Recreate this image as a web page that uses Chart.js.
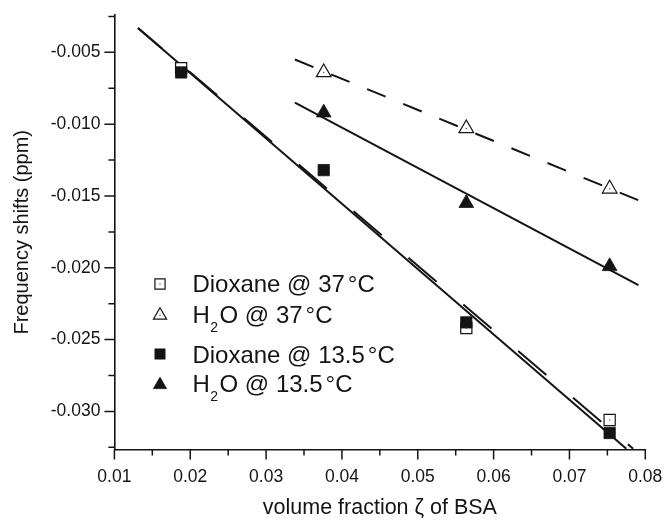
<!DOCTYPE html>
<html>
<head>
<meta charset="utf-8">
<script src="https://cdn.jsdelivr.net/npm/chart.js@4/dist/chart.umd.min.js"></script>
<style>
html,body{margin:0;padding:0;background:#fff;}
#wrap{width:664px;height:522px;}
</style>
</head>
<body>
<div id="wrap"><canvas id="c" width="664" height="522"></canvas></div>
<script>
// ---- data ----
const volumeFraction = [0.0188, 0.0376, 0.0564, 0.0753];
const dioxane37  = [-0.0061, null, -0.0242, -0.0306];
const h2o37      = [null, -0.0064, -0.0103, -0.0145];
const dioxane135 = [-0.0064, -0.0132, -0.0238, -0.0315];
const h2o135     = [null, -0.0092, -0.0155, -0.0199];

// linear fit lines (end points)
const fitDioxane37X  = [0.0131, 0.0784];
const fitDioxane37Y  = [-0.0033, -0.0326];
const fitDioxane135X = [0.0131, 0.0775];
const fitDioxane135Y = [-0.0033, -0.0326];
const fitH2o37X  = [0.0338, 0.0791];
const fitH2o37Y  = [-0.0055, -0.0153];
const fitH2o135X = [0.0338, 0.0791];
const fitH2o135Y = [-0.0085, -0.0212];

// axes
const xRange = [0.01, 0.08];
const yRange = [-0.03265, -0.0024];
const xMajorTicks = [0.01, 0.02, 0.03, 0.04, 0.05, 0.06, 0.07, 0.08];
const xMinorTicks = [0.015, 0.025, 0.035, 0.045, 0.055, 0.065, 0.075];
const yMajorTicks = [-0.030, -0.025, -0.020, -0.015, -0.010, -0.005];
const yMinorTicks = [-0.0325, -0.0275, -0.0225, -0.0175, -0.0125, -0.0075, -0.0025];

const xTitle = 'volume fraction \u03B6 of BSA';
const yTitle = 'Frequency shifts (ppm)';

// ---- styling ----
const INK = '#141414';
const FONT = "'Liberation Sans', Arial, Helvetica, sans-serif";

const toPts = (xs, ys) => xs.map((x, i) => ({x: x, y: ys[i]})).filter(p => p.y !== null);

const datasets = [
  {label: 'fit Dioxane 37', data: toPts(fitDioxane37X, fitDioxane37Y), showLine: true, pointRadius: 0,
   borderColor: INK, borderWidth: 2, borderDash: [37, 35], borderDashOffset: 5, order: 10},
  {label: 'fit Dioxane 13.5', data: toPts(fitDioxane135X, fitDioxane135Y), showLine: true, pointRadius: 0,
   borderColor: INK, borderWidth: 2, order: 10},
  {label: 'fit H2O 37', data: toPts(fitH2o37X, fitH2o37Y), showLine: true, pointRadius: 0,
   borderColor: INK, borderWidth: 2, borderDash: [20, 19], order: 10},
  {label: 'fit H2O 13.5', data: toPts(fitH2o135X, fitH2o135Y), showLine: true, pointRadius: 0,
   borderColor: INK, borderWidth: 2, order: 10},
  {label: 'Dioxane @ 37\u00B0C', data: toPts(volumeFraction, dioxane37), showLine: false,
   pointStyle: 'rect', pointRadius: 7.9, backgroundColor: '#fff', borderColor: INK, borderWidth: 1.2,
   order: 3, centerDot: true},
  {label: 'H2O @ 37\u00B0C', data: toPts(volumeFraction, h2o37), showLine: false,
   pointStyle: 'triangle', pointRadius: 8.5, backgroundColor: '#fff', borderColor: INK, borderWidth: 1.2,
   order: 3, centerDot: true},
  {label: 'Dioxane @ 13.5\u00B0C', data: toPts(volumeFraction, dioxane135), showLine: false,
   pointStyle: 'rect', pointRadius: 8.0, backgroundColor: INK, borderColor: INK, borderWidth: 0.8, order: 1},
  {label: 'H2O @ 13.5\u00B0C', data: toPts(volumeFraction, h2o135), showLine: false,
   pointStyle: 'triangle', pointRadius: 8.5, backgroundColor: INK, borderColor: INK, borderWidth: 0.8, order: 1}
];

// small dot in the centre of open symbols
const centerDots = {
  id: 'centerDots',
  afterDatasetsDraw(chart) {
    const ctx = chart.ctx;
    ctx.save();
    ctx.fillStyle = '#444';
    chart.data.datasets.forEach((ds, i) => {
      if (!ds.centerDot) return;
      chart.getDatasetMeta(i).data.forEach(pt => {
        ctx.fillRect(pt.x - 0.6, pt.y - 0.6, 1.2, 1.2);
      });
    });
    ctx.restore();
  }
};

// major / minor outward tick marks
const tickMarks = {
  id: 'tickMarks',
  afterDraw(chart) {
    const {ctx, chartArea, scales} = chart;
    const {left, bottom} = chartArea;
    ctx.save();
    ctx.strokeStyle = INK;
    ctx.lineWidth = 1.5;
    ctx.beginPath();
    xMajorTicks.forEach(v => { const p = scales.x.getPixelForValue(v); ctx.moveTo(p, bottom); ctx.lineTo(p, bottom + 10); });
    xMinorTicks.forEach(v => { const p = scales.x.getPixelForValue(v); ctx.moveTo(p, bottom); ctx.lineTo(p, bottom + 6); });
    yMajorTicks.forEach(v => { const p = scales.y.getPixelForValue(v); ctx.moveTo(left, p); ctx.lineTo(left - 10, p); });
    yMinorTicks.forEach(v => { const p = scales.y.getPixelForValue(v); ctx.moveTo(left, p); ctx.lineTo(left - 6, p); });
    ctx.stroke();
    ctx.restore();
  }
};

// legend inside the plot (Origin style)
const legendRows = [
  {ds: 4, parts: [{t: 'Dioxane @ 37'}], deg: true, dy: 277.3, my: 269.0},
  {ds: 5, parts: [{t: 'H'}, {t: '2', sub: true}, {t: 'O @ 37'}], deg: true, dy: 307.7, my: 300.4},
  {ds: 6, parts: [{t: 'Dioxane @ 13.5'}], deg: true, dy: 347.7, my: 339.0},
  {ds: 7, parts: [{t: 'H'}, {t: '2', sub: true}, {t: 'O @ 13.5'}], deg: true, dy: 376.7, my: 369.8}
];
const insideLegend = {
  id: 'insideLegend',
  afterDraw(chart) {
    const {ctx, chartArea} = chart;
    const x0 = chartArea.left + 78;
    const mx = chartArea.left + 45.6;
    ctx.save();
    legendRows.forEach(row => {
      const ds = chart.data.datasets[row.ds];
      const y = chartArea.top + row.dy;
      const my = chartArea.top + row.my;
      ctx.fillStyle = ds.backgroundColor;
      ctx.strokeStyle = ds.borderColor;
      ctx.lineWidth = ds.borderWidth;
      const r = ds.pointStyle === 'rect' ? 7.2 : 7.6;
      Chart.helpers.drawPoint(ctx, {pointStyle: ds.pointStyle, radius: r, rotation: 0, borderWidth: ds.borderWidth}, mx, my);
      if (ds.centerDot) { ctx.fillStyle = '#444'; ctx.fillRect(mx - 0.6, my - 0.6, 1.2, 1.2); }
      ctx.fillStyle = INK;
      ctx.textBaseline = 'alphabetic';
      ctx.textAlign = 'left';
      let x = x0;
      row.parts.forEach(p => {
        if (p.sub) {
          ctx.font = '14px ' + FONT;
          x += 0.5;
          ctx.fillText(p.t, x, y + 9.6);
          x += ctx.measureText(p.t).width + 1.5;
        } else {
          ctx.font = '24px ' + FONT;
          ctx.fillText(p.t, x, y);
          x += ctx.measureText(p.t).width;
        }
      });
      if (row.deg) {
        ctx.font = '24px ' + FONT;
        x += 3;
        ctx.fillText('\u00B0C', x, y);
      }
    });
    ctx.restore();
  }
};

new Chart(document.getElementById('c'), {
  type: 'scatter',
  data: {datasets: datasets},
  options: {
    responsive: false,
    animation: false,
    devicePixelRatio: 1,
    events: [],
    layout: {padding: {left: 0, right: 18.7, top: 15, bottom: 0}},
    plugins: {legend: {display: false}, tooltip: {enabled: false}},
    scales: {
      x: {
        type: 'linear', position: 'bottom', min: xRange[0], max: xRange[1],
        afterBuildTicks: s => { s.ticks = xMajorTicks.map(v => ({value: v})); },
        afterFit: s => { s.height = 72.5; s.paddingLeft = 0; s.paddingRight = 0; s.paddingTop = 0; s.paddingBottom = 0; },
        grid: {display: false, drawTicks: false},
        border: {display: true, color: INK, width: 1.6},
        ticks: {padding: 17, color: INK, font: {family: FONT, size: 17.5}, maxRotation: 0, autoSkip: false,
                callback: v => v.toFixed(2)},
        title: {display: true, text: xTitle, color: INK, font: {family: FONT, size: 21.5}, padding: {top: 0, bottom: 1}}
      },
      y: {
        type: 'linear', position: 'left', min: yRange[0], max: yRange[1],
        afterBuildTicks: s => { s.ticks = yMajorTicks.map(v => ({value: v})); },
        afterFit: s => { s.width = 114.4; s.paddingLeft = 0; s.paddingRight = 0; s.paddingTop = 0; s.paddingBottom = 0; },
        grid: {display: false, drawTicks: false},
        border: {display: true, color: INK, width: 1.6},
        ticks: {padding: 14, color: INK, font: {family: FONT, size: 17.5}, autoSkip: false,
                callback: v => v.toFixed(3)},
        title: {display: true, text: yTitle, color: INK, font: {family: FONT, size: 20}, padding: {top: 10.5, bottom: 0}}
      }
    }
  },
  plugins: [centerDots, tickMarks, insideLegend]
});
</script>
</body>
</html>
